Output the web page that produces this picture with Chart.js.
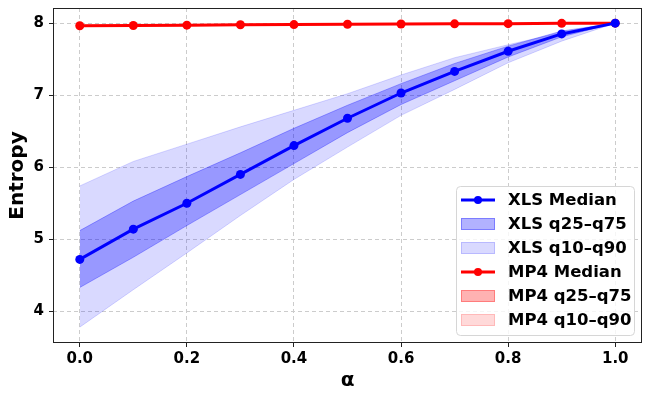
<!DOCTYPE html>
<html>
<head>
<meta charset="utf-8">
<script src="https://cdn.jsdelivr.net/npm/chart.js@4.4.0/dist/chart.umd.min.js"></script>
<style>
  html, body { margin: 0; padding: 0; background: #fff; }
  #wrap { width: 650px; height: 399px; }
</style>
</head>
<body>
<div id="wrap"><canvas id="chart"></canvas></div>
<script>
const alphas = [0.0, 0.1, 0.2, 0.3, 0.4, 0.5, 0.6, 0.7, 0.8, 0.9, 1.0];

const xlsMedian = [4.72, 5.14, 5.50, 5.90, 6.30, 6.68, 7.03, 7.33, 7.61, 7.85, 8.0];
const xlsQ25 = [4.33, 4.75, 5.19, 5.62, 6.05, 6.48, 6.87, 7.20, 7.53, 7.81, 8.0];
const xlsQ75 = [5.12, 5.53, 5.87, 6.20, 6.54, 6.86, 7.16, 7.44, 7.68, 7.89, 8.0];
const xlsQ10 = [3.78, 4.30, 4.81, 5.33, 5.83, 6.28, 6.72, 7.08, 7.45, 7.75, 8.0];
const xlsQ90 = [5.74, 6.08, 6.32, 6.56, 6.79, 7.02, 7.28, 7.52, 7.70, 7.87, 8.0];

const mp4Median = [7.963, 7.967, 7.972, 7.977, 7.980, 7.985, 7.988, 7.990, 7.993, 7.997, 8.0];
const mp4Q25 = [7.958, 7.962, 7.968, 7.973, 7.977, 7.982, 7.985, 7.988, 7.991, 7.995, 8.0];
const mp4Q75 = [7.967, 7.971, 7.976, 7.980, 7.983, 7.988, 7.990, 7.992, 7.995, 7.998, 8.0];
const mp4Q10 = [7.952, 7.957, 7.963, 7.969, 7.974, 7.979, 7.983, 7.986, 7.990, 7.994, 8.0];
const mp4Q90 = [7.971, 7.974, 7.979, 7.983, 7.986, 7.990, 7.992, 7.994, 7.996, 7.999, 8.0];

const yTicks = [4, 5, 6, 7, 8];
const xTicks = [0.0, 0.2, 0.4, 0.6, 0.8, 1.0];

const legendOrder = ["XLS Median", "XLS q25–q75", "XLS q10–q90", "MP4 Median", "MP4 q25–q75", "MP4 q10–q90"];

const pts = (arr) => arr.map((v, i) => ({ x: alphas[i], y: v }));

const FONT = "'DejaVu Sans', sans-serif";

function band(label, arr, color, fill, legend) {
  return {
    label: label,
    data: pts(arr),
    borderColor: color,
    backgroundColor: color,
    borderWidth: 1,
    pointRadius: 0,
    fill: fill,
    tension: 0,
    legend: legend
  };
}

function medianLine(label, arr, color) {
  return {
    label: label,
    data: pts(arr),
    borderColor: color,
    backgroundColor: color,
    borderWidth: 3,
    pointRadius: 4.5,
    pointBackgroundColor: color,
    pointBorderWidth: 0,
    fill: false,
    tension: 0,
    legend: "line"
  };
}

// matplotlib-style frame round the plot area
const framePlugin = {
  id: "frame",
  afterDraw(chart) {
    const { ctx, chartArea: a } = chart;
    ctx.save();
    ctx.strokeStyle = "#222";
    ctx.lineWidth = 1;
    ctx.setLineDash([]);
    ctx.strokeRect(a.left + 0.5, a.top + 0.5, a.right - a.left - 1, a.bottom - a.top - 1);
    ctx.restore();
  }
};

// legend inside the lower right corner
const legendPlugin = {
  id: "innerLegend",
  afterDraw(chart) {
    const { ctx, chartArea: a } = chart;
    const items = chart.data.datasets
      .filter((d) => d.legend)
      .sort((p, q) => legendOrder.indexOf(p.label) - legendOrder.indexOf(q.label));
    const boxW = 178, rowH = 24, boxH = items.length * rowH + 5;
    const x0 = a.right - 8 - boxW;
    const y0 = a.bottom - 8 - boxH;
    ctx.save();
    ctx.beginPath();
    ctx.roundRect(x0 + 0.5, y0 + 0.5, boxW, boxH, 4);
    ctx.fillStyle = "rgba(255,255,255,0.8)";
    ctx.fill();
    ctx.strokeStyle = "#d6d6d6";
    ctx.lineWidth = 1;
    ctx.stroke();
    ctx.font = "bold 16.5px " + FONT;
    ctx.textBaseline = "middle";
    items.forEach((d, i) => {
      const cy = y0 + 14 + i * rowH;
      const hx = x0 + 5;
      if (d.legend === "line") {
        ctx.strokeStyle = d.borderColor;
        ctx.lineWidth = 3;
        ctx.beginPath();
        ctx.moveTo(hx, cy);
        ctx.lineTo(hx + 34, cy);
        ctx.stroke();
        ctx.fillStyle = d.borderColor;
        ctx.beginPath();
        ctx.arc(hx + 17, cy, 4, 0, Math.PI * 2);
        ctx.fill();
      } else {
        ctx.fillStyle = d.backgroundColor;
        ctx.fillRect(hx, cy - 6, 34, 12);
        ctx.strokeStyle = d.borderColor;
        ctx.lineWidth = 1;
        ctx.strokeRect(hx + 0.5, cy - 5.5, 33, 11);
      }
      ctx.fillStyle = "#000";
      ctx.fillText(d.label, x0 + 52, cy + 1);
    });
    ctx.restore();
  }
};

const blueDark = "rgba(0,0,255,0.30)";
const blueLight = "rgba(0,0,255,0.15)";
const redDark = "rgba(255,0,0,0.30)";
const redLight = "rgba(255,0,0,0.15)";

const datasets = [
  band("XLS q10–q90", xlsQ90, blueLight, "+1", "box"),
  band("xls q10", xlsQ10, blueLight, false, null),
  band("XLS q25–q75", xlsQ75, blueDark, "+1", "box"),
  band("xls q25", xlsQ25, blueDark, false, null),
  medianLine("XLS Median", xlsMedian, "#0000ff"),
  band("MP4 q10–q90", mp4Q90, redLight, "+1", "box"),
  band("mp4 q10", mp4Q10, redLight, false, null),
  band("MP4 q25–q75", mp4Q75, redDark, "+1", "box"),
  band("mp4 q25", mp4Q25, redDark, false, null),
  medianLine("MP4 Median", mp4Median, "#ff0000")
];

const gridOpts = {
  color: "#cccccc",
  tickColor: "#222",
  tickLength: 4,
  tickBorderDash: []
};

new Chart(document.getElementById("chart"), {
  type: "line",
  data: { datasets: datasets },
  options: {
    responsive: true,
    maintainAspectRatio: false,
    animation: false,
    layout: { padding: { top: 8, right: 8, left: 6, bottom: 6 } },
    plugins: {
      legend: { display: false },
      tooltip: { enabled: false },
      filler: { propagate: false }
    },
    scales: {
      x: {
        type: "linear",
        min: -0.05,
        max: 1.05,
        afterBuildTicks: (s) => { s.ticks = xTicks.map((v) => ({ value: v })); },
        afterFit: (s) => { s.height = 50; },
        border: { display: false, dash: [4, 3] },
        grid: gridOpts,
        ticks: {
          color: "#000",
          padding: 3,
          font: { family: FONT, size: 15, weight: "bold" },
          callback: (v) => v.toFixed(1)
        },
        title: {
          display: true,
          text: "α",
          color: "#000",
          padding: { top: 0, bottom: 0 },
          font: { family: FONT, size: 20, weight: "bold" }
        }
      },
      y: {
        min: 3.56,
        max: 8.21,
        afterBuildTicks: (s) => { s.ticks = yTicks.map((v) => ({ value: v })); },
        afterFit: (s) => { s.width = 47; s.paddingTop = 0; s.paddingBottom = 0; },
        border: { display: false, dash: [4, 3] },
        grid: gridOpts,
        ticks: {
          color: "#000",
          padding: 5,
          font: { family: FONT, size: 15, weight: "bold" },
          callback: (v) => String(v)
        },
        title: {
          display: true,
          text: "Entropy",
          color: "#000",
          padding: { top: 0, bottom: 0 },
          font: { family: FONT, size: 20, weight: "bold" }
        }
      }
    }
  },
  plugins: [framePlugin, legendPlugin]
});
</script>
</body>
</html>
